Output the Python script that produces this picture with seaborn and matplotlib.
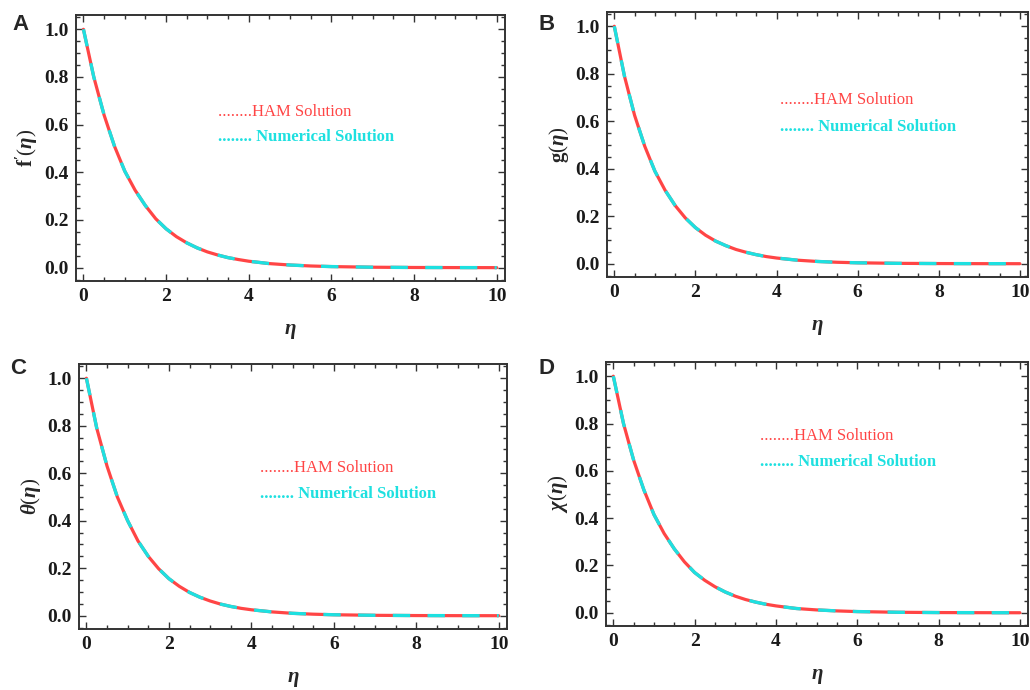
import matplotlib
matplotlib.use("Agg")
import matplotlib.pyplot as plt
from matplotlib.ticker import MultipleLocator
import seaborn as sns

# Similarity variable
eta = [0, 0.25, 0.5, 0.75, 1, 1.25, 1.5, 1.75, 2, 2.25, 2.5, 2.75, 3, 3.25, 3.5, 3.75,
       4, 4.5, 5, 5.5, 6, 7, 8, 9, 10]

# Velocity profile f'(eta)
ham_fp = [1.0, 0.80, 0.64, 0.51, 0.405, 0.325, 0.26, 0.205, 0.163, 0.130, 0.104, 0.083,
          0.066, 0.053, 0.042, 0.034, 0.027, 0.017, 0.011, 0.007, 0.0045, 0.0018, 0.0007,
          0.0003, 0.0]
num_fp = [1.0, 0.80, 0.64, 0.51, 0.405, 0.325, 0.26, 0.205, 0.163, 0.130, 0.104, 0.083,
          0.066, 0.053, 0.042, 0.034, 0.027, 0.017, 0.011, 0.007, 0.0045, 0.0018, 0.0007,
          0.0003, 0.0]

# Velocity profile g(eta)
ham_g = [1.0, 0.79, 0.625, 0.495, 0.39, 0.31, 0.245, 0.193, 0.152, 0.120, 0.095, 0.076,
         0.060, 0.048, 0.038, 0.030, 0.024, 0.015, 0.0095, 0.006, 0.0038, 0.0015, 0.0006,
         0.0002, 0.0]
num_g = [1.0, 0.79, 0.625, 0.495, 0.39, 0.31, 0.245, 0.193, 0.152, 0.120, 0.095, 0.076,
         0.060, 0.048, 0.038, 0.030, 0.024, 0.015, 0.0095, 0.006, 0.0038, 0.0015, 0.0006,
         0.0002, 0.0]

# Temperature profile theta(eta)
ham_theta = [1.0, 0.79, 0.63, 0.50, 0.40, 0.315, 0.25, 0.198, 0.156, 0.124, 0.098, 0.078,
             0.062, 0.049, 0.039, 0.031, 0.025, 0.016, 0.010, 0.0064, 0.004, 0.0016, 0.0006,
             0.0002, 0.0]
num_theta = [1.0, 0.79, 0.63, 0.50, 0.40, 0.315, 0.25, 0.198, 0.156, 0.124, 0.098, 0.078,
             0.062, 0.049, 0.039, 0.031, 0.025, 0.016, 0.010, 0.0064, 0.004, 0.0016, 0.0006,
             0.0002, 0.0]

# Microorganism concentration chi(eta)
ham_chi = [1.0, 0.80, 0.645, 0.52, 0.415, 0.335, 0.27, 0.215, 0.17, 0.137, 0.11, 0.088,
           0.07, 0.056, 0.045, 0.036, 0.029, 0.018, 0.012, 0.0078, 0.005, 0.002, 0.0008,
           0.0003, 0.0]
num_chi = [1.0, 0.80, 0.645, 0.52, 0.415, 0.335, 0.27, 0.215, 0.17, 0.137, 0.11, 0.088,
           0.07, 0.056, 0.045, 0.036, 0.029, 0.018, 0.012, 0.0078, 0.005, 0.002, 0.0008,
           0.0003, 0.0]

panel_letters = ["A", "B", "C", "D"]
y_labels = [r"$\mathbf{f'}(\eta)$", r"$\mathbf{g}(\eta)$", r"$\theta(\eta)$", r"$\chi(\eta)$"]
x_label = r"$\eta$"
ham_text = "........HAM Solution"
num_text = "........ Numerical Solution"
x_ticks = [0, 2, 4, 6, 8, 10]
y_ticks = [0.0, 0.2, 0.4, 0.6, 0.8, 1.0]

sns.set_theme(style="ticks")
plt.rcParams["font.family"] = ["Liberation Serif", "DejaVu Serif"]
plt.rcParams["mathtext.fontset"] = "custom"
plt.rcParams["mathtext.rm"] = "Liberation Serif"
plt.rcParams["mathtext.it"] = "Liberation Serif:italic:bold"
plt.rcParams["mathtext.bf"] = "Liberation Serif:bold"
plt.rcParams["lines.scale_dashes"] = False

RED = "#ff4545"
CYAN = "#1ee0e0"
FRAME = "#333333"

W, H = 1030, 690
fig = plt.figure(figsize=(W / 100, H / 100), dpi=100)


def box(left, top, right, bottom):
    return [left / W, (H - bottom) / H, (right - left) / W, (bottom - top) / H]


panels = [
    dict(rect=box(76, 15, 505, 281), ham=ham_fp, num=num_fp, txt=(0.33, 0.635, 0.54),
         letter=(12, 30)),
    dict(rect=box(607, 12, 1028, 277), ham=ham_g, num=num_g, txt=(0.41, 0.668, 0.566),
         letter=(538, 30)),
    dict(rect=box(79, 364, 507, 629), ham=ham_theta, num=num_theta, txt=(0.423, 0.607, 0.51),
         letter=(10, 374)),
    dict(rect=box(606, 362, 1028, 626), ham=ham_chi, num=num_chi, txt=(0.366, 0.72, 0.62),
         letter=(538, 374)),
]

for i, p in enumerate(panels):
    ax = fig.add_axes(p["rect"])
    sns.lineplot(x=eta, y=p["ham"], ax=ax, color=RED, linewidth=2.3, estimator=None)
    sns.lineplot(x=eta, y=p["num"], ax=ax, color=CYAN, linewidth=2.4, estimator=None,
                 linestyle=(0, (12.5, 12.5)))
    ax.set_xlim(-0.18, 10.2)
    ax.set_ylim(-0.056, 1.06)
    ax.set_xticks(x_ticks)
    ax.set_yticks(y_ticks)
    ax.set_xticklabels([str(t) for t in x_ticks], fontweight="bold", fontsize=14)
    ax.set_yticklabels([f"{t:.1f}" for t in y_ticks], fontweight="bold", fontsize=14)
    ax.xaxis.set_minor_locator(MultipleLocator(0.5))
    ax.yaxis.set_minor_locator(MultipleLocator(0.05))
    ax.tick_params(which="both", direction="in", top=True, right=True, color=FRAME,
                   width=1.0, labelcolor="#1a1a1a")
    ax.tick_params(which="major", length=5, pad=5)
    ax.tick_params(which="minor", length=3)
    for s in ax.spines.values():
        s.set_visible(True)
        s.set_color(FRAME)
        s.set_linewidth(1.4)
    ax.set_xlabel(x_label, fontsize=15, labelpad=12)
    ax.set_ylabel(y_labels[i], fontsize=15, labelpad=3)

    tx, hy, ny = p["txt"]
    ax.text(tx, hy, ham_text, transform=ax.transAxes, color=RED, fontsize=12,
            va="center", ha="left")
    ax.text(tx, ny, num_text, transform=ax.transAxes, color=CYAN, fontsize=12,
            va="center", ha="left", fontweight="bold")

    lx, ly = p["letter"]
    fig.text(lx / W, 1 - ly / H, panel_letters[i], fontsize=16, fontweight="bold",
             family=["Liberation Sans", "DejaVu Sans"], ha="left", va="baseline")

fig.savefig("out.png", dpi=100)
